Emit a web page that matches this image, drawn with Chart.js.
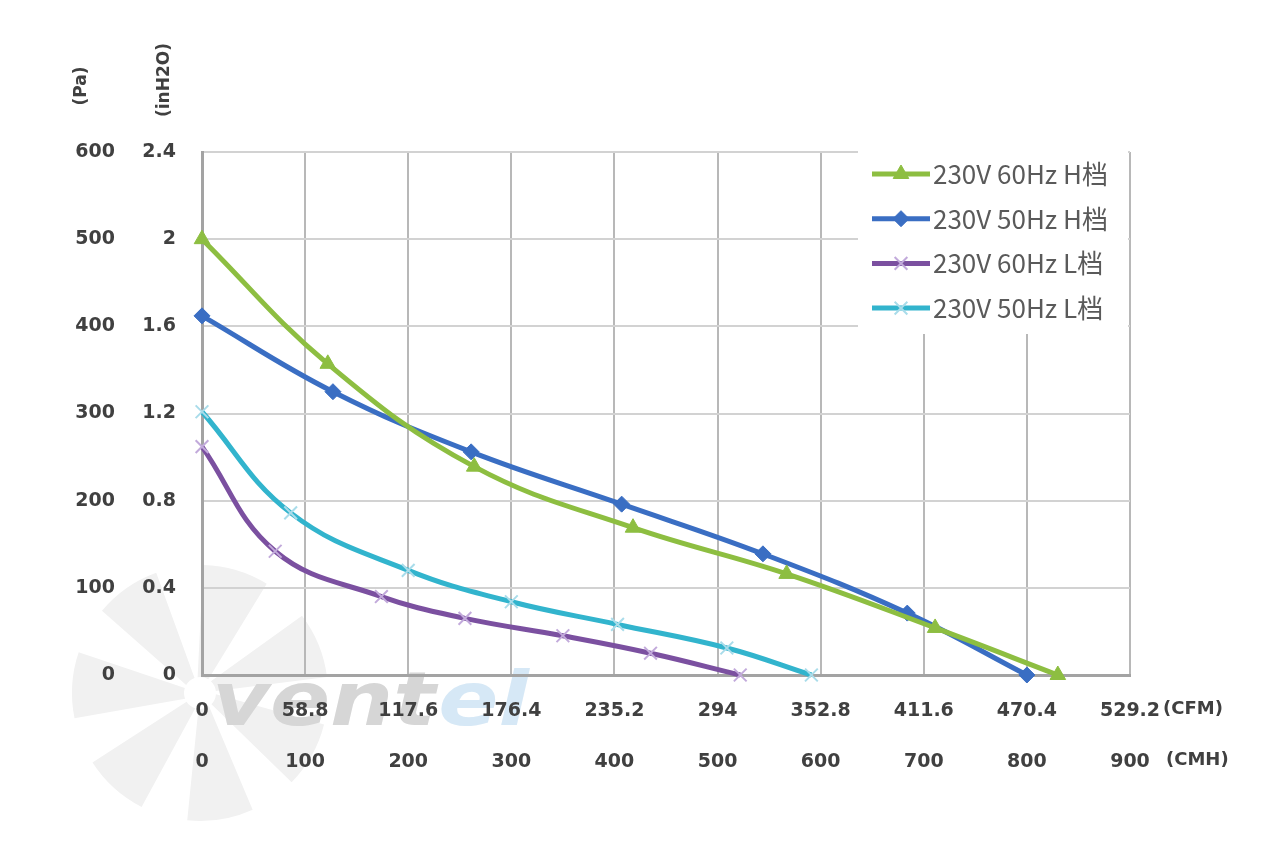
<!DOCTYPE html>
<html>
<head>
<meta charset="utf-8">
<script src="https://cdn.jsdelivr.net/npm/chart.js@4.4.1/dist/chart.umd.min.js"></script>
<style>
  html, body { margin: 0; padding: 0; background: #fff; }
  #wrap { width: 1280px; height: 863px; position: relative; }
</style>
</head>
<body>
<div id="wrap"><canvas id="pq"></canvas></div>
<script>
// Tick labels
const cfmLabels = ['0', '58.8', '117.6', '176.4', '235.2', '294', '352.8', '411.6', '470.4', '529.2'];
const cmhLabels = ['0', '100', '200', '300', '400', '500', '600', '700', '800', '900'];
const paLabels = ['0', '100', '200', '300', '400', '500', '600'];
const inH2OLabels = ['0', '0.4', '0.8', '1.2', '1.6', '2', '2.4'];

// Series (airflow CMH / static pressure Pa)
const seriesNames = ['230V 60Hz H档', '230V 50Hz H档', '230V 60Hz L档', '230V 50Hz L档'];
const h60Flow = [0, 122, 264, 418, 567, 711, 830];
const h60Pa = [500, 357, 239, 169, 116, 54, 0];
const h50Flow = [0, 127, 261, 407, 544, 684, 800];
const h50Pa = [412, 325, 256, 196, 139, 71, 0];
const l60Flow = [0, 71, 174, 255, 350, 435, 522];
const l60Pa = [262, 142, 90, 65, 45, 25, 0];
const l50Flow = [0, 86, 200, 300, 403, 509, 591];
const l50Pa = [302, 186, 120, 84, 58, 31, 0];

// Styles
var tickColour = "#404040";
var tickFont = { family: '"DejaVu Sans", sans-serif', size: 19, weight: 'bold' };
var gridColour = "#d2d2d2";
var axisColour = "#a3a3a3";

const styles = [
    { line: '#8dbe41', point: '#8dbe41', pointStyle: 'triangle', radius: 9, pointBorder: 1 },
    { line: '#3a6ec3', point: '#3a6ec3', pointStyle: 'rectRot', radius: 8, pointBorder: 1 },
    { line: '#7b50a0', point: '#c2aadb', pointStyle: 'crossRot', radius: 9, pointBorder: 2 },
    { line: '#32b4cd', point: '#a9dcea', pointStyle: 'crossRot', radius: 9, pointBorder: 2 }
];

function toPoints(xs, ys) {
    return xs.map((x, i) => ({ x: x, y: ys[i] }));
}

const seriesData = [
    toPoints(h60Flow, h60Pa),
    toPoints(h50Flow, h50Pa),
    toPoints(l60Flow, l60Pa),
    toPoints(l50Flow, l50Pa)
];

const datasets = seriesData.map((pts, i) => ({
    label: seriesNames[i],
    data: pts,
    yAxisID: 'yPa',
    showLine: true,
    tension: 0.4,
    borderColor: styles[i].line,
    borderWidth: 5,
    backgroundColor: styles[i].point,
    pointStyle: styles[i].pointStyle,
    pointRadius: styles[i].radius,
    pointBackgroundColor: styles[i].point,
    pointBorderColor: styles[i].point,
    pointBorderWidth: styles[i].pointBorder,
    clip: false
}));

// Watermark, axis titles, units and legend
const decorations = {
    id: 'decorations',
    beforeDraw(chart) {
        const ctx = chart.ctx;
        const area = chart.chartArea;
        const cx = area.left - 2, cy = area.bottom + 18;
        ctx.save();
        ctx.fillStyle = '#f1f1f1';
        for (let k = 0; k < 7; k++) {
            const a0 = (-150 + k * 360 / 7) * Math.PI / 180;
            const a1 = a0 + 40 * Math.PI / 180;
            ctx.beginPath();
            ctx.arc(cx, cy, 16, a0, a1);
            ctx.arc(cx, cy, 128, a1, a0 + 10 * Math.PI / 180, true);
            ctx.closePath();
            ctx.fill();
        }
        ctx.font = 'bold italic 74px "DejaVu Sans", sans-serif';
        ctx.textBaseline = 'alphabetic';
        ctx.textAlign = 'left';
        ctx.translate(area.left + 10, area.bottom + 50);
        ctx.scale(1.2, 1);
        ctx.fillStyle = '#d6d6d6';
        ctx.fillText('vent', 0, 0);
        const w = ctx.measureText('vent').width;
        ctx.fillStyle = '#d6e8f6';
        ctx.fillText('el', w + 2, 0);
        ctx.restore();
    },
    afterDraw(chart) {
        const ctx = chart.ctx;
        const area = chart.chartArea;
        const yPa = chart.scales.yPa;
        const yIn = chart.scales.yIn;

        ctx.save();
        ctx.fillStyle = tickColour;
        ctx.font = 'bold 17px "DejaVu Sans", sans-serif';
        ctx.textAlign = 'center';
        ctx.textBaseline = 'middle';
        [['(Pa)', yPa.left + 24, area.top - 66], ['(inH2O)', yIn.right - 37, area.top - 72]].forEach(t => {
            ctx.save();
            ctx.translate(t[1], t[2]);
            ctx.rotate(-Math.PI / 2);
            ctx.fillText(t[0], 0, 0);
            ctx.restore();
        });

        ctx.font = 'bold 18px "DejaVu Sans", sans-serif';
        ctx.textAlign = 'left';
        ctx.fillText('(CFM)', area.right + 33, area.bottom + 34);
        ctx.fillText('(CMH)', area.right + 36, area.bottom + 85);

        // legend
        const lx = area.right - 272, ly = area.top - 4;
        ctx.fillStyle = '#ffffff';
        ctx.fillRect(lx, ly, 270, 186);
        ctx.font = '26px "Noto Sans CJK SC", sans-serif';
        ctx.textBaseline = 'middle';
        seriesNames.forEach((name, i) => {
            const y = ly + 26 + i * 44.7;
            ctx.strokeStyle = styles[i].line;
            ctx.lineWidth = 5;
            ctx.beginPath();
            ctx.moveTo(lx + 14, y);
            ctx.lineTo(lx + 72, y);
            ctx.stroke();
            ctx.fillStyle = styles[i].point;
            ctx.strokeStyle = styles[i].point;
            ctx.lineWidth = styles[i].pointBorder;
            Chart.helpers.drawPoint(ctx, {
                pointStyle: styles[i].pointStyle,
                radius: styles[i].radius,
                rotation: 0,
                borderWidth: styles[i].pointBorder
            }, lx + 43, y);
            ctx.fillStyle = '#5a5a5a';
            ctx.fillText(name, lx + 75, y);
        });
        ctx.restore();
    }
};

new Chart(document.getElementById('pq'), {
    type: 'scatter',
    data: { datasets },
    options: {
        responsive: true,
        maintainAspectRatio: false,
        animation: false,
        layout: { padding: { left: 58, top: 152, right: 150, bottom: 60 } },
        plugins: {
            legend: { display: false },
            tooltip: { enabled: false }
        },
        scales: {
            x: {
                type: 'linear',
                position: 'bottom',
                min: 0,
                max: 900,
                ticks: {
                    stepSize: 100,
                    autoSkip: false,
                    maxRotation: 0,
                    padding: 11,
                    color: tickColour,
                    font: Object.assign({}, tickFont, { lineHeight: 2.68 }),
                    callback: (v, i) => [cfmLabels[i], cmhLabels[i]]
                },
                grid: { color: '#b8b8b8', lineWidth: 2, drawTicks: false },
                border: { color: axisColour, width: 3 },
                afterFit: s => { s.height = 128; }
            },
            yPa: {
                type: 'linear',
                position: 'left',
                weight: 2,
                min: 0,
                max: 600,
                ticks: {
                    stepSize: 100,
                    padding: 10,
                    color: tickColour,
                    font: tickFont,
                    callback: (v, i) => paLabels[i]
                },
                grid: { color: gridColour, lineWidth: 2, drawTicks: false },
                border: { display: false },
                afterFit: s => { s.width = 67; }
            },
            yIn: {
                type: 'linear',
                position: 'left',
                weight: 1,
                min: 0,
                max: 2.4,
                ticks: {
                    stepSize: 0.4,
                    padding: 26,
                    color: tickColour,
                    font: tickFont,
                    callback: (v, i) => inH2OLabels[i]
                },
                grid: { display: false, drawTicks: false },
                border: { color: axisColour, width: 3 },
                afterFit: s => { s.width = 77; }
            }
        }
    },
    plugins: [decorations]
});
</script>
</body>
</html>
